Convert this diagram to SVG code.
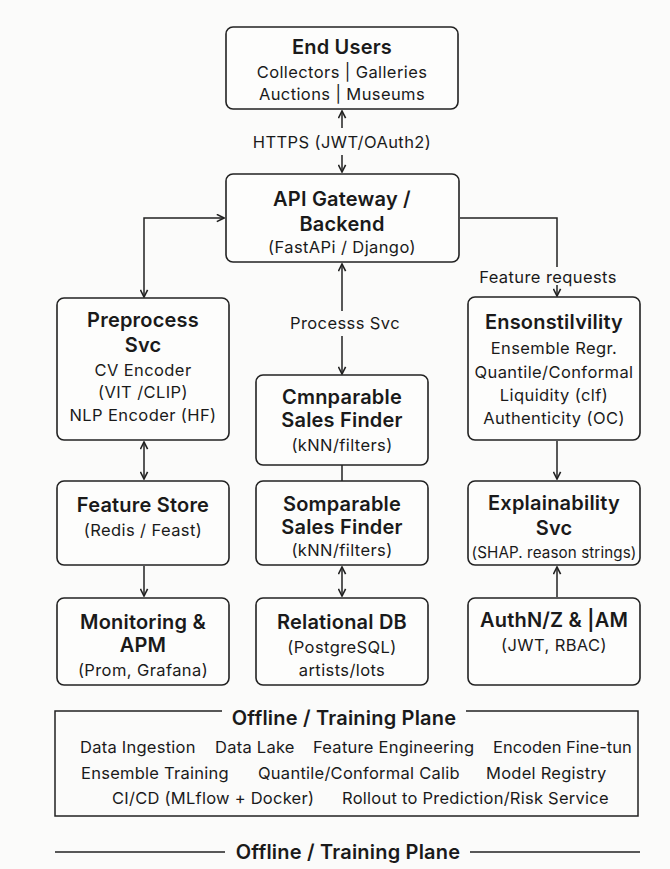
<svg xmlns="http://www.w3.org/2000/svg" width="670" height="869" viewBox="0 0 670 869">
<defs>
<style>
.box{fill:#fdfdfc;stroke:#222;stroke-width:1.6}
.ln{fill:none;stroke:#222;stroke-width:1.5}
text{font-family:Inter,"Noto Sans","Liberation Sans",sans-serif;fill:#1a1a1a;text-anchor:middle}
.t{font-size:20px;font-weight:600;letter-spacing:0.2px}
.s{font-size:16.5px;letter-spacing:0.4px}
.o{font-size:16.5px;letter-spacing:0.25px;text-anchor:start}
</style>
<marker id="ah" viewBox="0 0 10 10" refX="9" refY="5" markerWidth="9" markerHeight="9" markerUnits="userSpaceOnUse" orient="auto-start-reverse">
<path d="M1,1 L9,5 L1,9" fill="none" stroke="#222" stroke-width="1.8"/>
</marker>
</defs>
<rect width="670" height="869" fill="#fbfbfa"/>
<g id="connectors">
<line class="ln" x1="342" y1="128" x2="342" y2="111" marker-end="url(#ah)"/>
<line class="ln" x1="342" y1="155" x2="342" y2="172" marker-end="url(#ah)"/>
<text class="s" x="342" y="148">HTTPS (JWT/OAuth2)</text>
<path class="ln" d="M144,297 V218 H224" marker-start="url(#ah)" marker-end="url(#ah)"/>
<path class="ln" d="M460,218 H557 V267"/>
<line class="ln" x1="557" y1="285" x2="557" y2="296" marker-end="url(#ah)"/>
<text class="s" x="548" y="283">Feature requests</text>
<line class="ln" x1="342" y1="264" x2="342" y2="311" marker-start="url(#ah)"/>
<line class="ln" x1="342" y1="336" x2="342" y2="374" marker-end="url(#ah)"/>
<text class="s" x="345" y="329">Processs Svc</text>
<line class="ln" x1="342" y1="465" x2="342" y2="481"/>
<line class="ln" x1="342" y1="567" x2="342" y2="596" marker-start="url(#ah)" marker-end="url(#ah)"/>
<line class="ln" x1="144" y1="442" x2="144" y2="479" marker-start="url(#ah)" marker-end="url(#ah)"/>
<line class="ln" x1="144" y1="566" x2="144" y2="596" marker-end="url(#ah)"/>
<line class="ln" x1="557" y1="441" x2="557" y2="479" marker-end="url(#ah)"/>
<line class="ln" x1="557" y1="597" x2="557" y2="567" marker-end="url(#ah)"/>
</g>
<g id="end-users">
<rect class="box" x="226" y="27" width="232" height="82" rx="7"/>
<text class="t" x="342" y="54">End Users</text>
<text class="s" x="342" y="78">Collectors | Galleries</text>
<text class="s" x="342" y="100">Auctions | Museums</text>
</g>
<g id="api-gateway">
<rect class="box" x="226" y="174" width="233" height="88" rx="7"/>
<text class="t" x="342" y="206">API Gateway /</text>
<text class="t" x="342" y="231">Backend</text>
<text class="s" x="342" y="253">(FastAPi / Django)</text>
</g>
<g id="preprocess">
<rect class="box" x="57" y="298" width="172" height="142" rx="7"/>
<text class="t" x="143" y="327">Preprocess</text>
<text class="t" x="143" y="352">Svc</text>
<text class="s" x="143" y="376">CV Encoder</text>
<text class="s" x="143" y="398">(VIT /CLIP)</text>
<text class="s" x="143" y="421">NLP Encoder (HF)</text>
</g>
<g id="comparable">
<rect class="box" x="256" y="375" width="172" height="90" rx="7"/>
<text class="t" x="342" y="404">Cmnparable</text>
<text class="t" x="342" y="427">Sales Finder</text>
<text class="s" x="342" y="451">(kNN/filters)</text>
</g>
<g id="ensemble">
<rect class="box" x="468" y="297" width="172" height="143" rx="7"/>
<text class="t" x="554" y="329">Ensonstilvility</text>
<text class="s" x="554" y="354">Ensemble Regr.</text>
<text class="s" x="554" y="378">Quantile/Conformal</text>
<text class="s" x="554" y="401">Liquidity (clf)</text>
<text class="s" x="554" y="424">Authenticity (OC)</text>
</g>
<g id="feature-store">
<rect class="box" x="57" y="481" width="172" height="84" rx="7"/>
<text class="t" x="143" y="512">Feature Store</text>
<text class="s" x="143" y="536">(Redis / Feast)</text>
</g>
<g id="somparable">
<rect class="box" x="256" y="481" width="172" height="84" rx="7"/>
<text class="t" x="342" y="511">Somparable</text>
<text class="t" x="342" y="534">Sales Finder</text>
<text class="s" x="342" y="556">(kNN/filters)</text>
</g>
<g id="explainability">
<rect class="box" x="468" y="481" width="172" height="84" rx="7"/>
<text class="t" x="554" y="510">Explainability</text>
<text class="t" x="554" y="535">Svc</text>
<text class="s" x="554" y="558" style="font-size:15.2px;letter-spacing:0.1px">(SHAP. reason strings)</text>
</g>
<g id="monitoring">
<rect class="box" x="57" y="598" width="172" height="87" rx="7"/>
<text class="t" x="143" y="629">Monitoring &amp;</text>
<text class="t" x="143" y="652">APM</text>
<text class="s" x="143" y="676">(Prom, Grafana)</text>
</g>
<g id="relational-db">
<rect class="box" x="256" y="598" width="172" height="87" rx="7"/>
<text class="t" x="342" y="629">Relational DB</text>
<text class="s" x="342" y="653">(PostgreSQL)</text>
<text class="s" x="342" y="676">artists/lots</text>
</g>
<g id="authn">
<rect class="box" x="468" y="598" width="172" height="87" rx="7"/>
<text class="t" x="554" y="627">AuthN/Z &amp; |AM</text>
<text class="s" x="554" y="651">(JWT, RBAC)</text>
</g>
<g id="offline-plane">
<path class="ln" d="M222,711 H55 V816 H638 V711 H466"/>
<text class="t" x="344" y="725">Offline / Training Plane</text>
<text class="o" x="80" y="753">Data Ingestion</text>
<text class="o" x="215" y="753">Data Lake</text>
<text class="o" x="313" y="753">Feature Engineering</text>
<text class="o" x="493" y="753" style="letter-spacing:0">Encoden Fine-tun</text>
<text class="o" x="81" y="779">Ensemble Training</text>
<text class="o" x="258" y="779">Quantile/Conformal Calib</text>
<text class="o" x="486" y="779">Model Registry</text>
<text class="o" x="112" y="804">CI/CD (MLflow + Docker)</text>
<text class="o" x="342" y="804">Rollout to Prediction/Risk Service</text>
</g>
<g id="offline-footer">
<line class="ln" x1="55" y1="852" x2="225" y2="852"/>
<line class="ln" x1="470" y1="852" x2="640" y2="852"/>
<text class="t" x="348" y="859">Offline / Training Plane</text>
</g>
</svg>
